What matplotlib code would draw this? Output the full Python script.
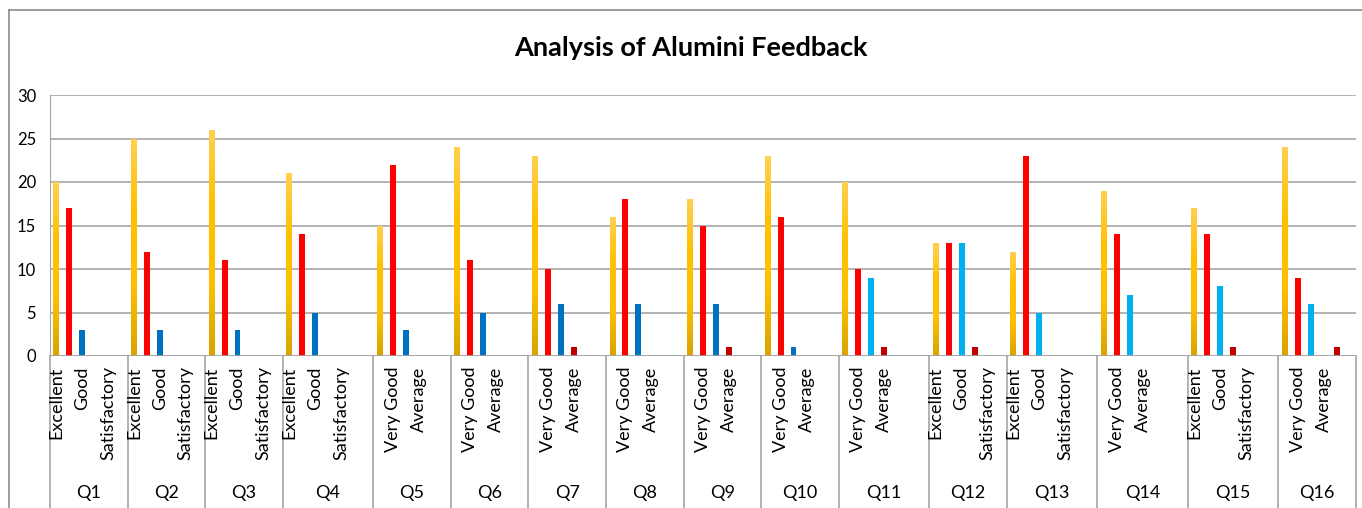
import numpy as np
import matplotlib.pyplot as plt
from matplotlib.colors import LinearSegmentedColormap
from matplotlib.lines import Line2D

# data
groups = ["Q%d" % i for i in range(1, 17)]
slot_counts = [6, 6, 6, 7, 6, 6, 6, 6, 6, 6, 7, 6, 7, 7, 7, 6]
slot_names = ["Excellent", "Very Good", "Good", "Average", "Satisfactory", "", ""]

excellent = [20, 25, 26, 21, 15, 24, 23, 16, 18, 23, 20, 13, 12, 19, 17, 24]
very_good = [17, 12, 11, 14, 22, 11, 10, 18, 15, 16, 10, 13, 23, 14, 14, 9]
good = [3, 3, 3, 5, 3, 5, 6, 6, 6, 1, 9, 13, 5, 7, 8, 6]
average = [0, 0, 0, 0, 0, 0, 1, 0, 1, 0, 1, 1, 0, 0, 1, 0]
satisfactory = [0, 0, 0, 0, 0, 0, 0, 0, 0, 0, 0, 0, 0, 0, 0, 1]

series = [excellent, very_good, good, average, satisfactory]

plt.rcParams['font.family'] = ['Lato', 'DejaVu Sans']

fig = plt.figure(figsize=(13.62, 5.08), dpi=100)
W, H = 1362, 508
x0, x1, y0, y1 = 50, 1356, 356, 95
ax = fig.add_axes([x0 / W, 1 - y0 / H, (x1 - x0) / W, (y0 - y1) / H])

gold_cmap = LinearSegmentedColormap.from_list("gold", ["#D9A400", "#FFC000", "#FFC000", "#FFD050"])
grid_c = "#A6A6A6"

total = sum(slot_counts)
starts = np.concatenate([[0], np.cumsum(slot_counts)[:-1]])
bw = 0.46

for g in range(len(groups)):
    for s, vals in enumerate(series):
        v = vals[g]
        if v <= 0:
            continue
        xc = starts[g] + s + 0.5
        if s == 0:
            bar = ax.bar(xc, v, width=bw, color="none", edgecolor="none", zorder=3)[0]
            grad = np.linspace(0, 1, 100).reshape(-1, 1)
            im = ax.imshow(grad, extent=[xc - bw / 2, xc + bw / 2, 0, v], origin="lower",
                           aspect="auto", cmap=gold_cmap, zorder=3)
            im.set_clip_path(bar)
        else:
            if s == 1:
                c = "#FF0000"
            elif s == 2:
                c = "#0070C0" if g < 10 else "#00B0F0"
            else:
                c = "#C00000"
            ax.bar(xc, v, width=bw, color=c, zorder=3)

ax.set_xlim(0, total)
ax.set_ylim(0, 30)
ax.set_yticks(range(0, 31, 5))
ax.yaxis.grid(True, color=grid_c, lw=1.2)
ax.set_axisbelow(True)
ax.set_xticks([])
ax.tick_params(axis="y", length=0, pad=10, labelsize=12)
for sp in ["top", "right", "bottom"]:
    ax.spines[sp].set_visible(False)
ax.spines["left"].set_color(grid_c)
ax.axhline(0, color=grid_c, lw=1.2, zorder=4)

# category labels, every second one as excel does
tr = ax.get_xaxis_transform()
k = 0
for g in range(len(groups)):
    for s in range(slot_counts[g]):
        if k % 2 == 0 and slot_names[s]:
            ax.text(starts[g] + s + 0.5, -0.04, slot_names[s], rotation=90, ha="center", va="top",
                    fontsize=13, transform=tr)
        k += 1
    ax.text(starts[g] + slot_counts[g] / 2, -0.525, groups[g], ha="center", va="center",
            fontsize=13, transform=tr)

# separators
bottom_y = -(H - y0) / (y0 - y1)
for b in list(starts) + [total]:
    ax.add_line(Line2D([b, b], [0, bottom_y], color=grid_c, lw=1.2, transform=tr, clip_on=False))

# outer border
fig.add_artist(Line2D([9 / W, 1], [1 - 10 / H, 1 - 10 / H], color="#8C8C8C", lw=1.2))
fig.add_artist(Line2D([9 / W, 9 / W], [0, 1 - 10 / H], color="#8C8C8C", lw=1.2))

fig.text(691 / W, 1 - 48 / H, "Analysis of Alumini Feedback", ha="center", va="center",
         fontsize=19.5, fontweight="bold")

fig.savefig("out.png", dpi=100)
